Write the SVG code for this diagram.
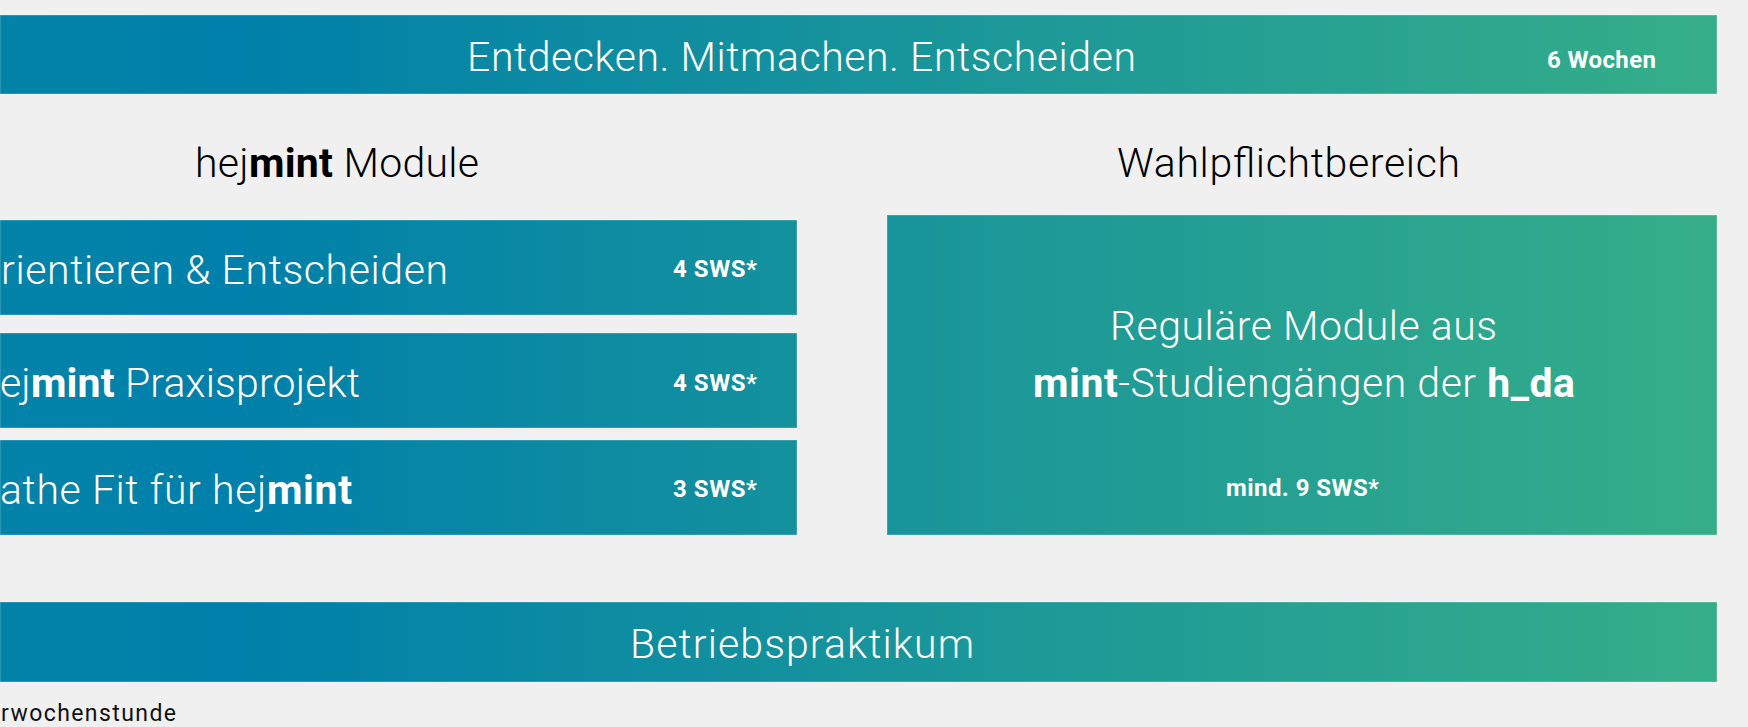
<svg xmlns="http://www.w3.org/2000/svg" width="1748" height="727" viewBox="0 0 1748 727">
<defs>
<linearGradient id="grad" gradientUnits="userSpaceOnUse" x1="0" y1="0" x2="1717" y2="0">
<stop offset="0" stop-color="#0483A9"/>
<stop offset="0.14" stop-color="#0080AA"/>
<stop offset="1" stop-color="#35AE88"/>
</linearGradient>
<style>
.box{fill:url(#grad);stroke:#ffffff;stroke-opacity:0.3;stroke-width:1}
.lt{font-family:Roboto,"Liberation Sans","DejaVu Sans",sans-serif;font-weight:300;font-size:41px;fill:#ffffff}
.hd{font-family:Roboto,"Liberation Sans","DejaVu Sans",sans-serif;font-weight:300;font-size:41px;fill:#000000}
.sm{font-family:Roboto,"Liberation Sans","DejaVu Sans",sans-serif;font-weight:700;font-size:24px;fill:#ffffff}
.b{font-weight:700}
.fn{font-family:Roboto,"Liberation Sans","DejaVu Sans",sans-serif;font-weight:400;font-size:23px;fill:#111111}
</style>
</defs>
<rect x="0" y="0" width="1748" height="727" fill="#F0F0F0"/>

<g id="top-bar">
<rect class="box" x="0" y="15" width="1717" height="79"/>
<text class="lt" x="467" y="71" textLength="669">Entdecken. Mitmachen. Entscheiden</text>
<text class="sm" x="1547" y="67.5" textLength="109">6 Wochen</text>
</g>

<g id="heading-left">
<text class="hd" x="195" y="177" textLength="284">hej<tspan class="b">mint</tspan> Module</text>
</g>

<g id="heading-right">
<text class="hd" x="1117" y="177" textLength="343">Wahlpflichtbereich</text>
</g>

<g id="module-1">
<rect class="box" x="0" y="220" width="797" height="95"/>
<text class="lt" x="1" y="284" textLength="447">rientieren &amp; Entscheiden</text>
<text class="sm" x="673" y="277" textLength="84">4 SWS*</text>
</g>

<g id="module-2">
<rect class="box" x="0" y="333" width="797" height="95"/>
<text class="lt" x="0" y="397" textLength="360">ej<tspan class="b">mint</tspan> Praxisprojekt</text>
<text class="sm" x="673" y="391" textLength="84">4 SWS*</text>
</g>

<g id="module-3">
<rect class="box" x="0" y="440" width="797" height="95"/>
<text class="lt" x="0" y="504" textLength="352">athe Fit für hej<tspan class="b">mint</tspan></text>
<text class="sm" x="673" y="497" textLength="84">3 SWS*</text>
</g>

<g id="wahlpflicht">
<rect class="box" x="887" y="215" width="830" height="320"/>
<text class="lt" x="1110" y="340" textLength="387">Reguläre Module aus</text>
<text class="lt" x="1033" y="397" textLength="542"><tspan class="b">mint</tspan>-Studiengängen der <tspan class="b">h_da</tspan></text>
<text class="sm" x="1226" y="496" textLength="153">mind. 9 SWS*</text>
</g>

<g id="bottom-bar">
<rect class="box" x="0" y="602" width="1717" height="80"/>
<text class="lt" x="630" y="658" textLength="344">Betriebspraktikum</text>
</g>

<g id="footnote">
<text class="fn" x="1" y="721" textLength="175">rwochenstunde</text>
</g>
</svg>
